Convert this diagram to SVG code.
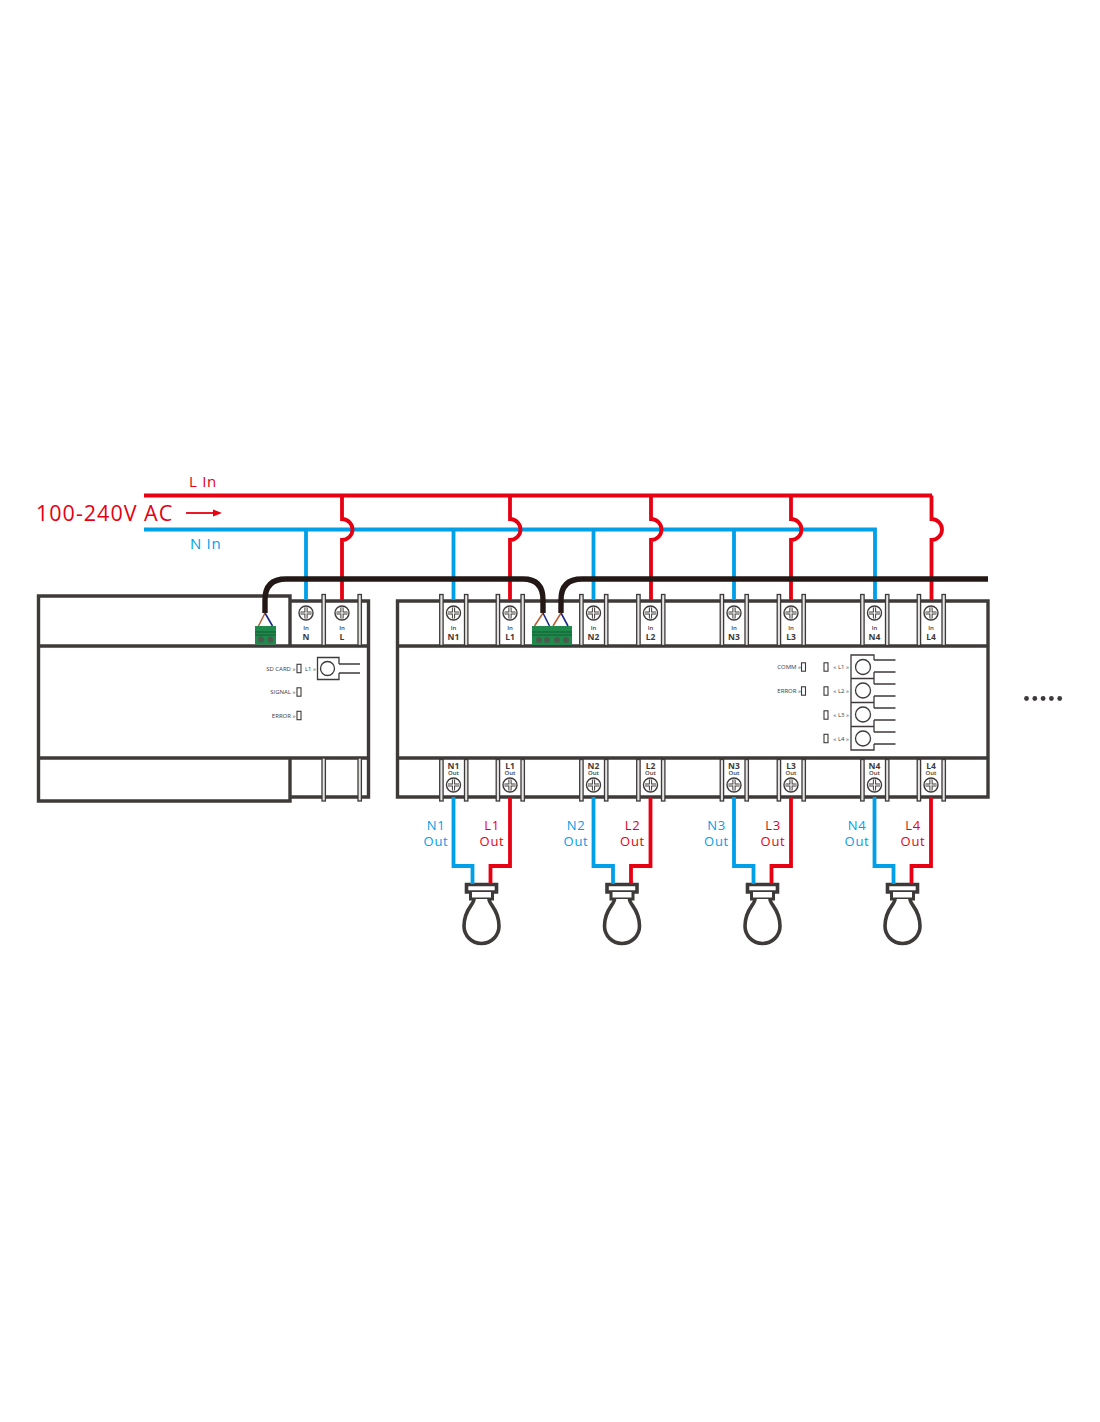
<svg xmlns="http://www.w3.org/2000/svg" xmlns:xlink="http://www.w3.org/1999/xlink" width="1100" height="1422" viewBox="0 0 1100 1422">
<style>
text{font-family:"Open Sans","Liberation Sans",sans-serif}
.b{fill:none;stroke:#3e3a39;stroke-width:3.4}
.t{fill:none;stroke:#3e3a39;stroke-width:1.3}
.p{fill:#e4e4e4;stroke:#3e3a39;stroke-width:1.3}
.r{fill:none;stroke:#e60012;stroke-width:3.8}
.u{fill:none;stroke:#00a0e9;stroke-width:3.8}
.k{fill:none;stroke:#231815;stroke-width:5.4}
.n{font-size:8.5px;font-weight:700;fill:#3e3a39;text-anchor:middle}
.s{font-size:6px;font-weight:600;fill:#3e3a39;text-anchor:middle}
.l{font-size:6px;fill:#3e3a39;text-anchor:end;font-weight:400}
.lr{fill:#e60012;font-size:13px;font-weight:500;text-anchor:middle;letter-spacing:.7px}
.lb{fill:#00a0e9;font-size:13px;font-weight:500;text-anchor:middle;letter-spacing:.7px}
</style>
<defs>
<g id="screw"><circle r="7" fill="#fff" stroke="#3e3a39" stroke-width="1.4"/><path d="M-5.500 0H5.500M0 -5.500V5.500" fill="none" stroke="#3e3a39" stroke-width="3.200"/><path d="M-5.500 0H5.500M0 -5.500V5.500" fill="none" stroke="#fff" stroke-width="1.200"/></g>
<g id="tin"><rect x="-13.800" y="594.500" width="3.400" height="51" class="p"/><rect x="11" y="594.500" width="3.400" height="51" class="p"/></g>
<g id="tout"><rect x="-13.800" y="759.500" width="3.400" height="41.500" class="p"/><rect x="11" y="759.500" width="3.400" height="41.500" class="p"/></g>
<g id="bulb"><path d="M-15 884.500H15V892H-15Z" fill="#fff" stroke="#3e3a39" stroke-width="3.600"/><path d="M-11 892V899H11V892" fill="#fff" stroke="#3e3a39" stroke-width="3"/><path d="M-7.500 899C-7.500 905 -17.500 909 -17.500 926A17.500 17.500 0 0 0 17.500 926C17.500 909 7.500 905 7.500 899" fill="#fff" stroke="#3e3a39" stroke-width="3.600"/></g>
<rect id="led" x="-2" y="-4.200" width="4" height="8.400" fill="#fff" stroke="#3e3a39" stroke-width="1.100"/>
</defs>
<rect width="1100" height="1422" fill="#fff"/>

<g id="gateway">
<path class="b" d="M290 646V596H38.500V801H290V758"/>
<path class="b" d="M290 601H368.500V797H290M38.500 646H368.500M38.500 758H368.500"/>
<rect x="322" y="758" width="3.400" height="43" class="p"/><rect x="358" y="758" width="3.400" height="43" class="p"/>
<rect x="322" y="594.500" width="3.400" height="51" class="p"/><rect x="358" y="594.500" width="3.400" height="51" class="p"/>
<use href="#screw" x="306" y="613"/><use href="#screw" x="342" y="613"/>
<text class="s" x="306" y="630">In</text><text class="n" x="306" y="640">N</text>
<text class="s" x="342" y="630">In</text><text class="n" x="342" y="640">L</text>
<text class="l" x="295.500" y="670.500">SD CARD »</text><use href="#led" x="299" y="668.500"/><text class="l" x="316" y="670.500">L1 »</text>
<text class="l" x="295.500" y="694">SIGNAL »</text><use href="#led" x="299" y="692"/>
<text class="l" x="295.500" y="717.500">ERROR »</text><use href="#led" x="299" y="715.500"/>
<path class="t" d="M339 664H360M339 673H360M339 664V657.500H317.500V679.500H339V673"/>
<circle cx="327.500" cy="668.500" r="7" class="t"/>
<g id="conn-left"><rect x="255" y="626" width="21" height="18.500" fill="#1f8a4c"/><path d="M255 632H276M255 635H276" stroke="#0f5c30" stroke-width="1"/><circle cx="261" cy="639.500" r="3" fill="#4b5a4d"/><circle cx="270.500" cy="639.500" r="3" fill="#4b5a4d"/></g>
</g>

<g id="controller">
<path class="b" d="M397.500 601H988V797H397.500ZM397.500 646H988M397.500 758H988"/>
<g id="in-n1"><use href="#tin" x="453.500"/><use href="#screw" x="453.500" y="613"/><text class="s" x="453.500" y="630">In</text><text class="n" x="453.500" y="640">N1</text></g>
<g id="in-l1"><use href="#tin" x="510"/><use href="#screw" x="510" y="613"/><text class="s" x="510" y="630">In</text><text class="n" x="510" y="640">L1</text></g>
<g id="in-n2"><use href="#tin" x="593.500"/><use href="#screw" x="593.500" y="613"/><text class="s" x="593.500" y="630">In</text><text class="n" x="593.500" y="640">N2</text></g>
<g id="in-l2"><use href="#tin" x="650.500"/><use href="#screw" x="650.500" y="613"/><text class="s" x="650.500" y="630">In</text><text class="n" x="650.500" y="640">L2</text></g>
<g id="in-n3"><use href="#tin" x="734"/><use href="#screw" x="734" y="613"/><text class="s" x="734" y="630">In</text><text class="n" x="734" y="640">N3</text></g>
<g id="in-l3"><use href="#tin" x="791"/><use href="#screw" x="791" y="613"/><text class="s" x="791" y="630">In</text><text class="n" x="791" y="640">L3</text></g>
<g id="in-n4"><use href="#tin" x="874.500"/><use href="#screw" x="874.500" y="613"/><text class="s" x="874.500" y="630">In</text><text class="n" x="874.500" y="640">N4</text></g>
<g id="in-l4"><use href="#tin" x="931"/><use href="#screw" x="931" y="613"/><text class="s" x="931" y="630">In</text><text class="n" x="931" y="640">L4</text></g>
<g id="out-n1"><use href="#tout" x="453.500"/><use href="#screw" x="453.500" y="785"/><text class="n" x="453.500" y="769">N1</text><text class="s" x="453.500" y="774.500">Out</text></g>
<g id="out-l1"><use href="#tout" x="510"/><use href="#screw" x="510" y="785"/><text class="n" x="510" y="769">L1</text><text class="s" x="510" y="774.500">Out</text></g>
<g id="out-n2"><use href="#tout" x="593.500"/><use href="#screw" x="593.500" y="785"/><text class="n" x="593.500" y="769">N2</text><text class="s" x="593.500" y="774.500">Out</text></g>
<g id="out-l2"><use href="#tout" x="650.500"/><use href="#screw" x="650.500" y="785"/><text class="n" x="650.500" y="769">L2</text><text class="s" x="650.500" y="774.500">Out</text></g>
<g id="out-n3"><use href="#tout" x="734"/><use href="#screw" x="734" y="785"/><text class="n" x="734" y="769">N3</text><text class="s" x="734" y="774.500">Out</text></g>
<g id="out-l3"><use href="#tout" x="791"/><use href="#screw" x="791" y="785"/><text class="n" x="791" y="769">L3</text><text class="s" x="791" y="774.500">Out</text></g>
<g id="out-n4"><use href="#tout" x="874.500"/><use href="#screw" x="874.500" y="785"/><text class="n" x="874.500" y="769">N4</text><text class="s" x="874.500" y="774.500">Out</text></g>
<g id="out-l4"><use href="#tout" x="931"/><use href="#screw" x="931" y="785"/><text class="n" x="931" y="769">L4</text><text class="s" x="931" y="774.500">Out</text></g>
<g id="conn-right"><rect x="532" y="626" width="40" height="19" fill="#1f8a4c"/><path d="M532 632H572M532 635H572" stroke="#0f5c30" stroke-width="1"/><circle cx="539" cy="640" r="3" fill="#4b5a4d"/><circle cx="547" cy="640" r="3" fill="#4b5a4d"/><circle cx="557" cy="640" r="3" fill="#4b5a4d"/><circle cx="566" cy="640" r="3" fill="#4b5a4d"/></g>
<text class="l" x="801" y="669">COMM »</text><use href="#led" x="803.500" y="667"/>
<text class="l" x="801" y="693">ERROR »</text><use href="#led" x="803.500" y="691"/>
<use href="#led" x="826" y="667"/><text class="l" x="849" y="669">« L1 »</text>
<use href="#led" x="826" y="691"/><text class="l" x="849" y="693">« L2 »</text>
<use href="#led" x="826" y="715"/><text class="l" x="849" y="717">« L3 »</text>
<use href="#led" x="826" y="738.500"/><text class="l" x="849" y="740.500">« L4 »</text>
<path class="t" d="M874 660V655H851V750H874V744M851 678.500H874M851 702.500H874M851 726.500H874M874 660H895.500M874 672H895.500M874 684H895.500M874 696H895.500M874 708H895.500M874 720H895.500M874 732H895.500M874 744H895.500M874 672V684M874 696V708M874 720V732"/>
<circle cx="863" cy="667" r="7.500" class="t"/><circle cx="863" cy="690.500" r="7.500" class="t"/><circle cx="863" cy="714.500" r="7.500" class="t"/><circle cx="863" cy="738.500" r="7.500" class="t"/>
</g>

<g id="bulb1"><use href="#bulb" x="481.500"/></g>
<g id="bulb2"><use href="#bulb" x="622"/></g>
<g id="bulb3"><use href="#bulb" x="762.500"/></g>
<g id="bulb4"><use href="#bulb" x="902.500"/></g>

<g id="connectors">
<path class="u" d="M144 529.500H875V600M306 529.500V600M453.500 529.500V600M593.500 529.500V600M734 529.500V600"/>
<path class="r" d="M144 495.500H932M342 495.500V519A10.500 10.500 0 0 1 342 540V600M510 495.500V519A10.500 10.500 0 0 1 510 540V600M651 495.500V519A10.500 10.500 0 0 1 651 540V600M791 495.500V519A10.500 10.500 0 0 1 791 540V600M931.500 495.500V519A10.500 10.500 0 0 1 931.500 540V600"/>
<path class="k" d="M265 613V600Q265 579 286 579H523Q543 579 543 600V613M561 613V600Q561 579 582 579H988"/>
<path d="M265 613L258.500 626M543 613L534.500 626M561 613L553 626" fill="none" stroke="#b5643c" stroke-width="1.600"/>
<path d="M265 613L272.500 626M543 613L549.500 626M561 613L568 626" fill="none" stroke="#1c2a8a" stroke-width="1.600"/>
<path class="u" d="M453.500 797V866H472.500V884M593.500 797V866H613V884M734 797V866H753.500V884M874.500 797V866H893.500V884"/>
<path class="r" d="M510 797V866H490.500V884M650.500 797V866H631V884M791 797V866H771.500V884M931 797V866H911.500V884"/>
<path d="M186 513H217" stroke="#e60012" stroke-width="1.800" fill="none"/><path d="M222 513L213 509.500V516.500Z" fill="#e60012"/>
</g>

<g id="labels">
<text x="189" y="487" font-size="15" font-weight="500" fill="#e60012" letter-spacing=".7">L In</text>
<text x="190" y="549" font-size="15" font-weight="500" fill="#00a0e9" letter-spacing=".7">N In</text>
<text x="36" y="521" font-size="21.500" fill="#e60012" letter-spacing="1">100-240V AC</text>
<text class="lb" x="436" y="830">N1</text><text class="lb" x="436" y="846">Out</text>
<text class="lr" x="492" y="830">L1</text><text class="lr" x="492" y="846">Out</text>
<text class="lb" x="576" y="830">N2</text><text class="lb" x="576" y="846">Out</text>
<text class="lr" x="632.500" y="830">L2</text><text class="lr" x="632.500" y="846">Out</text>
<text class="lb" x="716.500" y="830">N3</text><text class="lb" x="716.500" y="846">Out</text>
<text class="lr" x="773" y="830">L3</text><text class="lr" x="773" y="846">Out</text>
<text class="lb" x="857" y="830">N4</text><text class="lb" x="857" y="846">Out</text>
<text class="lr" x="913" y="830">L4</text><text class="lr" x="913" y="846">Out</text>
</g>
<g id="more" fill="#3e3a39"><circle cx="1026.500" cy="698.500" r="2.400"/><circle cx="1034.800" cy="698.500" r="2.400"/><circle cx="1043.100" cy="698.500" r="2.400"/><circle cx="1051.400" cy="698.500" r="2.400"/><circle cx="1059.700" cy="698.500" r="2.400"/></g>
</svg>
